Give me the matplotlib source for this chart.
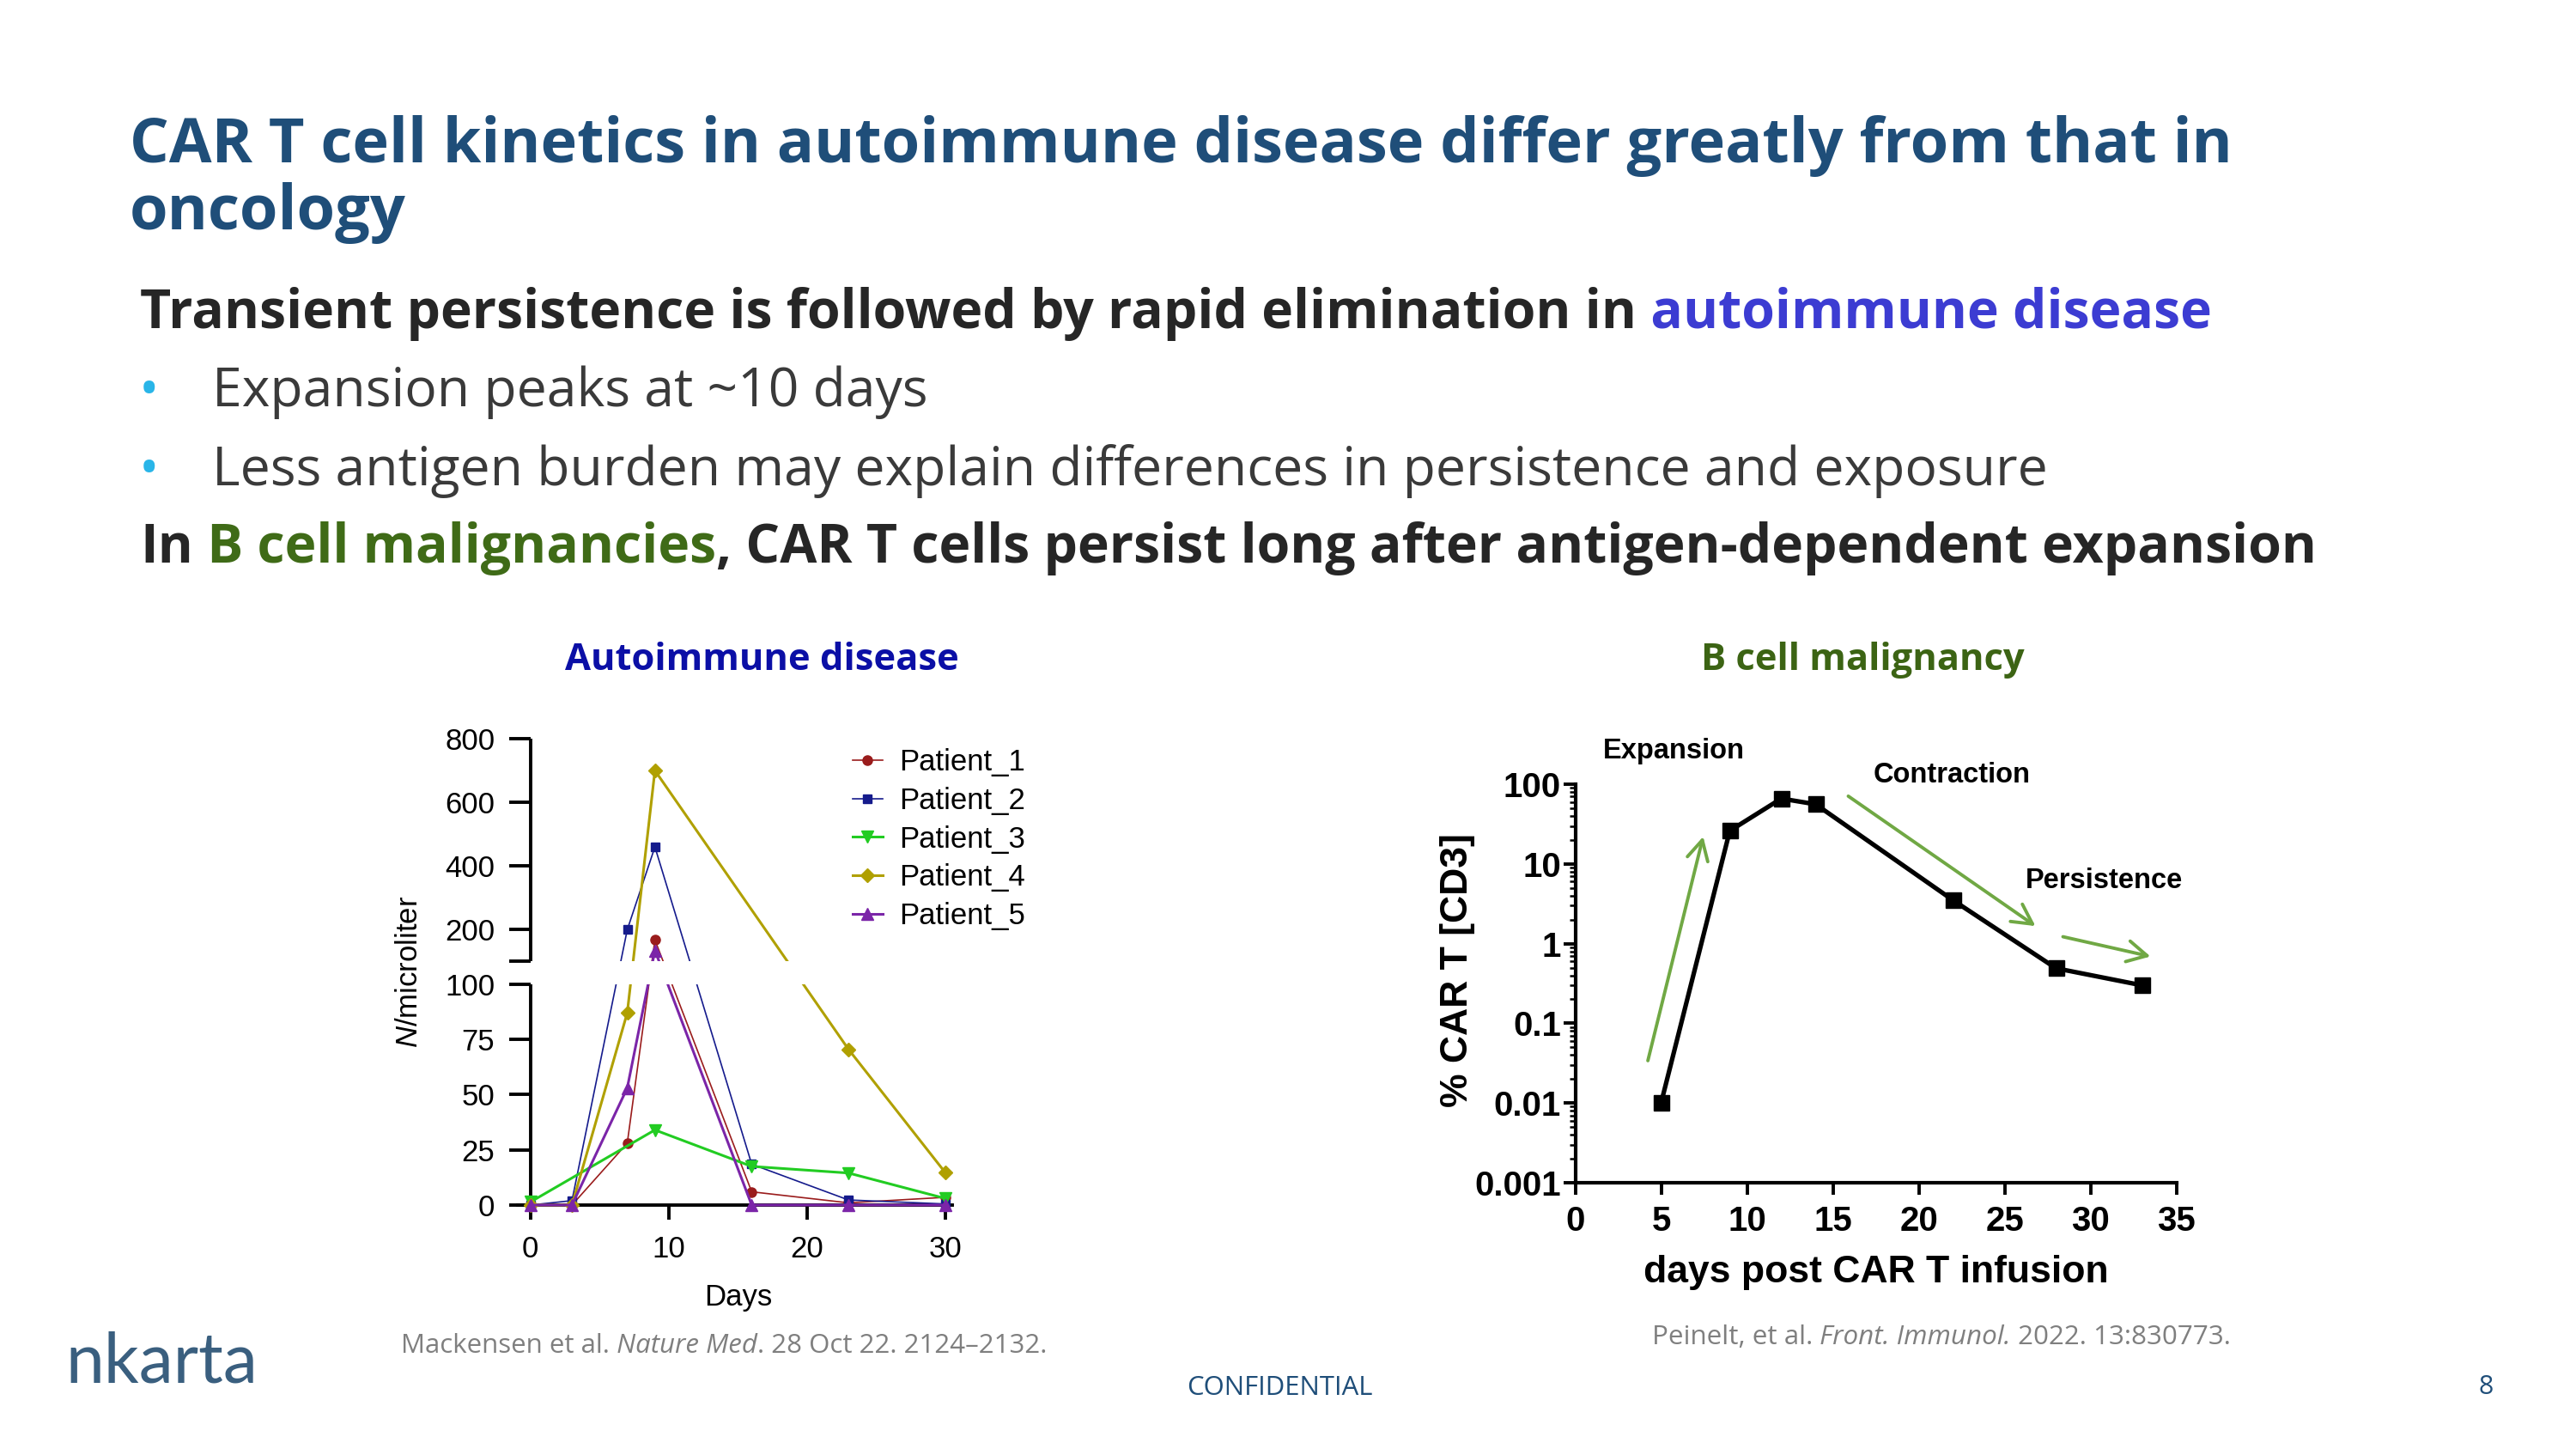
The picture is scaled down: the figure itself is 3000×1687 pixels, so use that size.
import numpy as np
import matplotlib
matplotlib.use("Agg")
import matplotlib.pyplot as plt
from matplotlib.patches import Rectangle
from matplotlib import transforms
from matplotlib.ticker import LogLocator, NullFormatter

# ---------------- data ----------------
days = [0, 3, 7, 9, 16, 23, 30]
patient_1 = [0, 0, 28, 168, 6, 1, 3.5]
patient_2 = [0, 2, 200, 460, 18.5, 2.3, 0.5]
patient_3_days = [0, 9, 16, 23, 30]
patient_3 = [1.4, 34, 17.5, 14.5, 3]
patient_4_days = [0, 3, 7, 9, 23, 30]
patient_4 = [0, 0, 87, 700, 70.5, 14.7]
patient_5 = [0, 0, 53, 135, 0, 0, 0]
lower_ticks = [0, 25, 50, 75, 100]
upper_ticks = [200, 400, 600, 800]
left_xticks = [0, 10, 20, 30]

bcell_days = [5, 9, 12, 14, 22, 28, 33]
bcell_pct = [0.01, 26, 66, 56, 3.5, 0.49, 0.30]
right_xticks = [0, 5, 10, 15, 20, 25, 30, 35]
right_yticks = [0.001, 0.01, 0.1, 1, 10, 100]
right_ylabels = ["0.001", "0.01", "0.1", "1", "10", "100"]

# ---------------- setup ----------------
W, H = 3000, 1687
plt.rcParams['font.family'] = ['Liberation Sans', 'DejaVu Sans']
plt.rcParams['mathtext.fontset'] = 'custom'
plt.rcParams['mathtext.it'] = 'Liberation Sans:italic'
plt.rcParams['mathtext.rm'] = 'Liberation Sans'
SLIDE = ['Open Sans', 'DejaVu Sans']

fig = plt.figure(figsize=(W / 100, H / 100), dpi=100)
fig.patch.set_facecolor('white')

bg = fig.add_axes([0, 0, 1, 1])
bg.set_xlim(0, W)
bg.set_ylim(H, 0)
bg.axis('off')
bg.patch.set_visible(False)


def rich(x, y, parts, size):
    prev = None
    for txt, color, style, wt in parts:
        kw = dict(fontsize=size, color=color, fontstyle=style, fontweight=wt, family=SLIDE)
        if prev is None:
            prev = bg.text(x, y, txt, ha='left', va='baseline', **kw)
        else:
            prev = bg.annotate(txt, xy=(1, 0), xycoords=prev, ha='left', va='bottom', **kw)
    return prev


TITLE_C = '#1f4e79'
DARK = '#262626'
BODY = '#3a3a3a'
BLUE = '#3c3cd2'
GREEN = '#3f6b17'
CYAN = '#29b5e8'
GRAY = '#7f7f7f'

bg.text(151, 189, "CAR T cell kinetics in autoimmune disease differ greatly from that in",
        fontsize=51.8, fontweight='bold', color=TITLE_C, family=SLIDE, va='baseline')
bg.text(151, 266.7, "oncology", fontsize=51.8, fontweight='bold', color=TITLE_C, family=SLIDE, va='baseline')

rich(163, 381.7, [("Transient persistence is followed by rapid elimination in", DARK, 'normal', 'bold'),
                  (" autoimmune disease", BLUE, 'normal', 'bold')], 45)
bg.text(162, 473, "•", fontsize=45, color=CYAN, family=SLIDE, va='baseline')
bg.text(247, 473, "Expansion peaks at ~10 days", fontsize=44.9, color=BODY, family=SLIDE, va='baseline')
bg.text(162, 565, "•", fontsize=45, color=CYAN, family=SLIDE, va='baseline')
bg.text(247, 565, "Less antigen burden may explain differences in persistence and exposure",
        fontsize=44.9, color=BODY, family=SLIDE, va='baseline')
rich(163, 655, [("In", DARK, 'normal', 'bold'),
                (" B cell malignancies", GREEN, 'normal', 'bold'),
                (", CAR T cells persist long after antigen-dependent expansion", DARK, 'normal', 'bold')], 45)

bg.text(887.5, 780, "Autoimmune disease", fontsize=31.3, fontweight='bold', color='#0b0fa6',
        family=SLIDE, ha='center', va='baseline')
bg.text(2169, 780, "B cell malignancy", fontsize=31.3, fontweight='bold', color='#3c6414',
        family=SLIDE, ha='center', va='baseline')

rich(467, 1575, [("Mackensen et al.", GRAY, 'normal', 'normal'),
                 (" Nature Med", GRAY, 'italic', 'normal'),
                 (". 28 Oct 22. 2124\u20132132.", GRAY, 'normal', 'normal')], 22.5)
rich(1924, 1565, [("Peinelt, et al.", GRAY, 'normal', 'normal'),
                  (" Front. Immunol.", GRAY, 'italic', 'normal'),
                  (" 2022. 13:830773.", GRAY, 'normal', 'normal')], 22.6)
bg.text(1490, 1624, "CONFIDENTIAL", fontsize=22.4, color=TITLE_C, family=SLIDE, ha='center', va='baseline')
bg.text(2895, 1623, "8", fontsize=22, color=TITLE_C, family=SLIDE, ha='center', va='baseline')
bg.text(76, 1610, "nkarta", fontsize=58, color='#3a5f7f', family=['Lato', 'DejaVu Sans'],
        fontweight='normal', va='baseline')

# ---------------- left chart (broken axis) ----------------
LOW_K = 2.572
GAP = 26.3
UP_K = 0.3707


def fwd(v):
    v = np.asarray(v, dtype=float)
    return np.where(v <= 100, v * LOW_K, 100 * LOW_K + GAP + (v - 100) * UP_K)


def inv(d):
    d = np.asarray(d, dtype=float)
    lo = 100 * LOW_K
    return np.where(d <= lo, d / LOW_K,
                    np.where(d < lo + GAP, 100.0, 100 + (d - lo - GAP) / UP_K))


axL = fig.add_axes([603.3 / W, 1 - 1410.7 / H, 505.6 / W, 554.4 / H])
axL.set_yscale('function', functions=(fwd, inv))
axL.set_xlim(-0.9, 30.5)
axL.set_ylim(-3, 810)
axL.patch.set_visible(False)

styles = [
    ("Patient_1", days, patient_1, '#9a1c1c', 'o', 8, 1.2),
    ("Patient_2", days, patient_2, '#151b8c', 's', 7.5, 1.2),
    ("Patient_3", patient_3_days, patient_3, '#22cc22', 'v', 10.5, 2.2),
    ("Patient_4", patient_4_days, patient_4, '#b0a000', 'D', 8, 2.2),
    ("Patient_5", days, patient_5, '#7b25a8', '^', 10.5, 2.2),
]
handles = []
for name, xs, ys, c, m, ms, lw in styles:
    h, = axL.plot(xs, ys, color=c, marker=m, ms=ms, lw=lw, mec=c, mfc=c, label=name, zorder=3)
    handles.append(h)

for s in ['top', 'right', 'left']:
    axL.spines[s].set_visible(False)
axL.spines['left'].set_position(('data', 0))
axL.spines['bottom'].set_position(('data', 0))
axL.spines['bottom'].set_linewidth(2.8)

axL.plot([0, 0], [0, 100], color='k', lw=2.8, solid_capstyle='butt', clip_on=False, zorder=2.5)
axL.plot([0, 0], [100.001, upper_ticks[-1]], color='k', lw=2.8, solid_capstyle='butt',
         clip_on=False, zorder=2.5)

y0, y1 = fwd(-3), fwd(810)
flo = (fwd(100) - y0) / (y1 - y0)
fhi = (fwd(100.001) - y0) / (y1 - y0)
blend = transforms.blended_transform_factory(axL.transData, axL.transAxes)
axL.add_patch(Rectangle((0.25, flo), 31, fhi - flo, transform=blend, facecolor='white',
                        edgecolor='none', zorder=3.5, clip_on=False))

yt = lower_ticks + [100.001] + upper_ticks
ytl = [str(t) for t in lower_ticks] + [''] + [str(t) for t in upper_ticks]
axL.set_yticks(yt)
axL.set_yticklabels(ytl)
axL.set_xticks(left_xticks)
axL.set_xticklabels([str(t) for t in left_xticks])
axL.tick_params(axis='y', length=18, width=2.8, pad=12, labelsize=25)
axL.tick_params(axis='x', length=12, width=2.8, pad=13, labelsize=25)
axL.minorticks_off()

axL.set_xlabel("Days", fontsize=25)
axL.xaxis.set_label_coords(0.5077, -0.150)
axL.set_ylabel(r"$\mathit{N}$/microliter", fontsize=25)
axL.yaxis.set_label_coords(-0.218, 0.5045)

leg = axL.legend(handles=handles, loc='upper left', bbox_to_anchor=(993 / W, 1 - 871 / H),
                 bbox_transform=fig.transFigure, frameon=False, fontsize=25, handlelength=1.0,
                 handletextpad=0.55, labelspacing=0.34, borderpad=0, borderaxespad=0)
leg.set_zorder(5)

# ---------------- right chart ----------------
axR = fig.add_axes([1834.5 / W, 1 - 1377 / H, 700 / W, 464 / H])
axR.set_yscale('log')
axR.set_xlim(0, 35)
axR.set_ylim(0.001, 100)
axR.patch.set_visible(False)
axR.plot(bcell_days, bcell_pct, color='k', lw=3.8, marker='s', ms=13.5, clip_on=False, zorder=3)
for s in ['top', 'right']:
    axR.spines[s].set_visible(False)
for s in ['left', 'bottom']:
    axR.spines[s].set_linewidth(3)

axR.set_xticks(right_xticks)
axR.set_xticklabels([str(t) for t in right_xticks], fontsize=29, fontweight='bold')
axR.set_yticks(right_yticks)
axR.set_yticklabels(right_ylabels, fontsize=29, fontweight='bold')
axR.yaxis.set_minor_locator(LogLocator(base=10, subs=range(2, 10), numticks=20))
axR.yaxis.set_minor_formatter(NullFormatter())
axR.tick_params(axis='both', which='major', length=10, width=2.8)
axR.tick_params(axis='y', which='minor', length=5, width=1.8)
axR.tick_params(axis='y', which='major', pad=2)
axR.tick_params(axis='x', which='major', pad=9)

axR.set_xlabel("days post CAR T infusion", fontsize=32, fontweight='bold')
axR.xaxis.set_label_coords(0.5, -0.18)
axR.set_ylabel("% CAR T [CD3]", fontsize=32, fontweight='bold')
axR.yaxis.set_label_coords(-0.167, 0.533)

ann_kw = dict(fontsize=23.5, fontweight='bold', ha='center', va='center', transform=axR.transAxes,
              clip_on=False)
axR.text(0.1644, 1.084, "Expansion", **ann_kw)
axR.text(0.6264, 1.0216, "Contraction", **ann_kw)
axR.text(0.8807, 0.7575, "Persistence", **ann_kw)

ARROW_G = '#70a844'
arrows = [((4.23, 0.034), (7.45, 22)),
          ((15.9, 70.8), (26.8, 1.66)),
          ((28.4, 1.22), (33.5, 0.69))]
for tail, head in arrows:
    axR.annotate('', xy=head, xytext=tail, xycoords='data', textcoords='data',
                 arrowprops=dict(arrowstyle='->,head_length=0.75,head_width=0.4', color=ARROW_G,
                                 lw=2.8, mutation_scale=22, shrinkA=0, shrinkB=0),
                 annotation_clip=False)

fig.savefig("out.png", dpi=100, facecolor='white')
